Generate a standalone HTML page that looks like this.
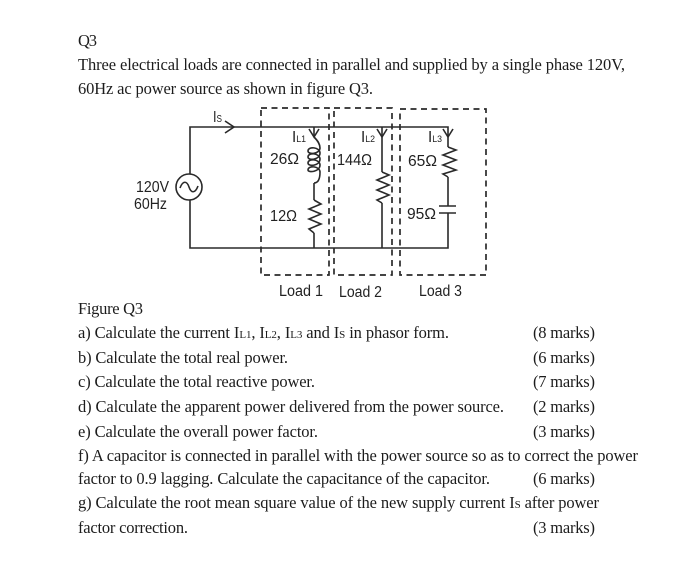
<!DOCTYPE html>
<html><head><meta charset="utf-8"><style>
html,body{margin:0;padding:0;background:#fff;width:700px;height:566px;overflow:hidden}
svg{display:block}
.t{font-family:"Liberation Serif",serif;font-size:16.5px;fill:#1c1c1c}
.s{font-family:"Liberation Sans",sans-serif;font-size:15.5px;fill:#222}
.w{fill:none;stroke:#2a2a2a;stroke-width:1.6}
.d{fill:none;stroke:#2a2a2a;stroke-width:1.7;stroke-dasharray:6 4.5}
</style></head><body>
<svg width="700" height="566" viewBox="0 0 700 566" xmlns="http://www.w3.org/2000/svg">
<rect width="700" height="566" fill="#fff"/>
<g class="t">
<text x="78" y="46" textLength="19" lengthAdjust="spacing">Q3</text>
<text x="78" y="70" textLength="547" lengthAdjust="spacing">Three electrical loads are connected in parallel and supplied by a single phase 120V,</text>
<text x="78" y="94" textLength="295" lengthAdjust="spacing">60Hz ac power source as shown in figure Q3.</text>
<text x="78" y="314" textLength="65" lengthAdjust="spacing">Figure Q3</text>
<text x="78" y="338" textLength="371" lengthAdjust="spacing">a) Calculate the current I<tspan font-size="11">L1</tspan>, I<tspan font-size="11">L2</tspan>, I<tspan font-size="11">L3</tspan> and I<tspan font-size="11">S</tspan> in phasor form.</text>
<text x="78" y="363" textLength="210" lengthAdjust="spacing">b) Calculate the total real power.</text>
<text x="78" y="387" textLength="237" lengthAdjust="spacing">c) Calculate the total reactive power.</text>
<text x="78" y="412" textLength="426" lengthAdjust="spacing">d) Calculate the apparent power delivered from the power source.</text>
<text x="78" y="437" textLength="240" lengthAdjust="spacing">e) Calculate the overall power factor.</text>
<text x="78" y="461" textLength="560" lengthAdjust="spacing">f) A capacitor is connected in parallel with the power source so as to correct the power</text>
<text x="78" y="484" textLength="412" lengthAdjust="spacing">factor to 0.9 lagging. Calculate the capacitance of the capacitor.</text>
<text x="78" y="508" textLength="521" lengthAdjust="spacing">g) Calculate the root mean square value of the new supply current I<tspan font-size="11">S</tspan> after power</text>
<text x="78" y="533" textLength="110" lengthAdjust="spacing">factor correction.</text>
<text x="533" y="338" textLength="62" lengthAdjust="spacing">(8 marks)</text>
<text x="533" y="363" textLength="62" lengthAdjust="spacing">(6 marks)</text>
<text x="533" y="387" textLength="62" lengthAdjust="spacing">(7 marks)</text>
<text x="533" y="412" textLength="62" lengthAdjust="spacing">(2 marks)</text>
<text x="533" y="437" textLength="62" lengthAdjust="spacing">(3 marks)</text>
<text x="533" y="484" textLength="62" lengthAdjust="spacing">(6 marks)</text>
<text x="533" y="533" textLength="62" lengthAdjust="spacing">(3 marks)</text>
</g>
<!-- dashed load boxes -->
<rect class="d" x="261" y="108" width="68" height="167"/>
<rect class="d" x="334" y="108" width="58" height="167"/>
<rect class="d" x="400" y="109" width="86" height="166"/>
<!-- wires -->
<path class="w" d="M190 174V127H448V147M190 200V248H448V213M314 127V137M314 183V200M314 233V248M382 127V172M382 203V248M448 177V206"/>
<!-- source -->
<circle class="w" cx="189" cy="187" r="13"/>
<path class="w" d="M180 188C183 180 187 181 189 187S195 194 198 186"/>
<!-- Is arrow -->
<path class="w" d="M225 121L234 127L225 133"/>
<!-- branch arrows -->
<path class="w" d="M309 129L314 137L319 129M377 129L382 137L387 129M443 129L448 137L453 129"/>
<!-- inductor -->
<path class="w" d="M314 137C318 141 320 144 320 148C320 154 308 155 308 151C308 146 320 147 320 153C320 160 308 161 308 157C308 152 320 153 320 159C320 166 308 167 308 163C308 158 320 159 320 165C320 172 308 173 308 170C308 165 320 166 320 172C320 179 318 183 314 183"/>
<!-- resistors -->
<path class="w" d="M314 200L321 204L309 209L321 214L309 219L321 224L309 229L314 233"/>
<path class="w" d="M382 172L389 175L377 180L389 185L377 190L389 195L377 200L382 203"/>
<path class="w" d="M448 147L456 150L443 155L456 160L443 165L456 170L443 174L448 177"/>
<!-- capacitor -->
<path class="w" d="M439 206H456M439 213H456"/>
<!-- labels -->
<g class="s">
<text x="213" y="122" textLength="9" lengthAdjust="spacingAndGlyphs">I<tspan font-size="10">S</tspan></text>
<text x="292" y="142" textLength="14" lengthAdjust="spacingAndGlyphs">I<tspan font-size="9">L1</tspan></text>
<text x="361" y="142" textLength="14" lengthAdjust="spacingAndGlyphs">I<tspan font-size="9">L2</tspan></text>
<text x="428" y="142" textLength="14" lengthAdjust="spacingAndGlyphs">I<tspan font-size="9">L3</tspan></text>
<text x="270" y="164" textLength="29" lengthAdjust="spacingAndGlyphs">26Ω</text>
<text x="337" y="165" textLength="35" lengthAdjust="spacingAndGlyphs">144Ω</text>
<text x="408" y="166" textLength="29" lengthAdjust="spacingAndGlyphs">65Ω</text>
<text x="270" y="221" textLength="27" lengthAdjust="spacingAndGlyphs">12Ω</text>
<text x="407" y="219" textLength="29" lengthAdjust="spacingAndGlyphs">95Ω</text>
<text x="136" y="192" textLength="33" lengthAdjust="spacingAndGlyphs">120V</text>
<text x="134" y="209" textLength="33" lengthAdjust="spacingAndGlyphs">60Hz</text>
<text x="279" y="296" textLength="44" lengthAdjust="spacingAndGlyphs">Load 1</text>
<text x="339" y="297" textLength="43" lengthAdjust="spacingAndGlyphs">Load 2</text>
<text x="419" y="296" textLength="43" lengthAdjust="spacingAndGlyphs">Load 3</text>
</g>
</svg>
</body></html>
